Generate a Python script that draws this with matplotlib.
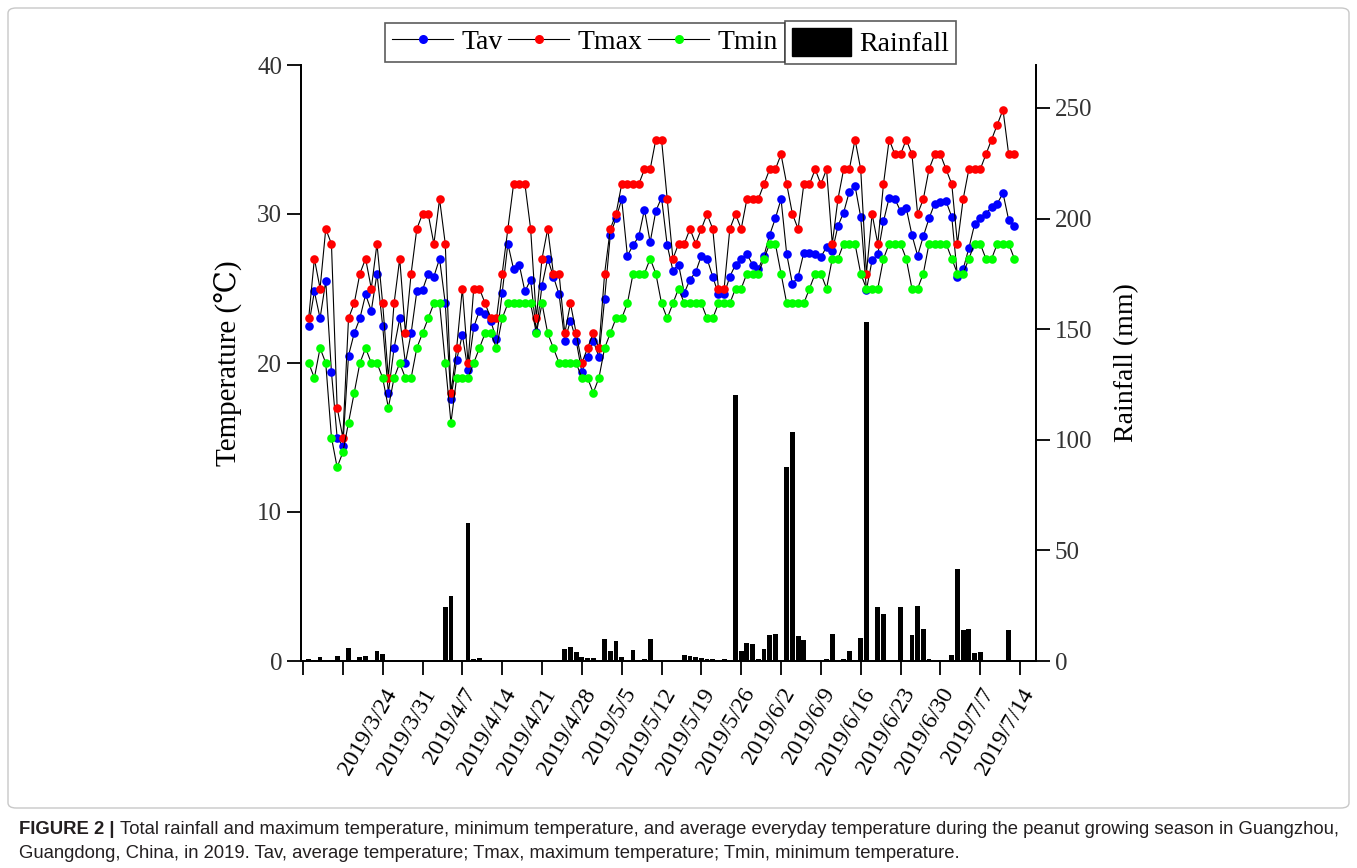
import matplotlib
matplotlib.use("Agg")
import matplotlib.pyplot as plt
import numpy as np
import pandas as pd
from matplotlib.lines import Line2D
from matplotlib.patches import Patch, FancyBboxPatch

plt.rcParams['font.family'] = ['Liberation Serif', 'DejaVu Serif']

# daily values, 2019/3/11 .. 2019/7/13
dates = pd.date_range('2019-03-11', periods=125, freq='D')

tmax = [23, 27, 25, 29, 28, 17, 15, 23, 24, 26, 27, 25, 28, 24, 19, 24, 27, 22, 26, 29, 30,
        30, 28, 31, 28, 18, 21, 25, 20, 25, 25, 24, 23, 23, 26, 29, 32, 32, 32, 29, 23, 27,
        29, 26, 26, 22, 24, 22, 20, 21, 22, 21, 26, 29, 30, 32, 32, 32, 32, 33, 33, 35, 35,
        31, 27, 28, 28, 29, 28, 29, 30, 29, 25, 25, 29, 30, 29, 31, 31, 31, 32, 33, 33, 34,
        32, 30, 29, 32, 32, 33, 32, 33, 28, 31, 33, 33, 35, 33, 26, 30, 28, 32, 35, 34, 34,
        35, 34, 30, 31, 33, 34, 34, 33, 32, 28, 31, 33, 33, 33, 34, 35, 36, 37, 34, 34]

tav = [22.5, 24.8, 23.0, 25.5, 19.4, 15.0, 14.4, 20.5, 22.0, 23.0, 24.6, 23.5, 26.0, 22.5, 18.0,
       21.0, 23.0, 20.0, 22.0, 24.8, 24.9, 26.0, 25.8, 27.0, 24.0, 17.6, 20.2, 21.9, 19.5, 22.4,
       23.5, 23.3, 22.8, 21.6, 24.7, 28.0, 26.3, 26.6, 24.8, 25.6, 22.1, 25.2, 27.0, 25.8, 24.6,
       21.5, 22.85, 21.5, 19.4, 20.4, 21.5, 20.4, 24.3, 28.6, 29.7, 31.0, 27.2, 27.9, 28.5, 30.3,
       28.1, 30.2, 31.1, 27.9, 26.2, 26.6, 24.7, 25.6, 26.1, 27.2, 27.0, 25.8, 24.6, 24.6, 25.8,
       26.6, 27.0, 27.3, 26.6, 26.3, 27.2, 28.6, 29.7, 31.0, 27.3, 25.3, 25.8, 27.4, 27.4, 27.3,
       27.1, 27.8, 27.5, 29.2, 30.1, 31.5, 31.9, 29.8, 24.9, 26.9, 27.3, 29.5, 31.1, 31.0, 30.2,
       30.4, 28.6, 27.2, 28.5, 29.7, 30.7, 30.8, 30.85, 29.8, 25.8, 26.3, 27.7, 29.3, 29.7, 30.0,
       30.5, 30.7, 31.4, 29.6, 29.2]

tmin = [20, 19, 21, 20, 15, 13, 14, 16, 18, 20, 21, 20, 20, 19, 17, 19, 20, 19, 19, 21, 22,
        23, 24, 24, 20, 16, 19, 19, 19, 20, 21, 22, 22, 21, 23, 24, 24, 24, 24, 24, 22, 24,
        22, 21, 20, 20, 20, 20, 19, 19, 18, 19, 21, 22, 23, 23, 24, 26, 26, 26, 27, 26, 24,
        23, 24, 25, 24, 24, 24, 24, 23, 23, 24, 24, 24, 25, 25, 26, 26, 26, 27, 28, 28, 26,
        24, 24, 24, 24, 25, 26, 26, 25, 27, 27, 28, 28, 28, 26, 25, 25, 25, 27, 28, 28, 28,
        27, 25, 25, 26, 28, 28, 28, 28, 27, 26, 26, 27, 28, 28, 27, 27, 28, 28, 28, 27]

# rainfall (mm), days with rain only; day index counted from 2019/3/11
rain_day = [0, 1, 2, 4, 5, 7, 9, 10, 12, 13,
            24, 25, 28, 29, 30,
            44, 45, 46, 47, 48, 49, 50, 52, 53, 54, 55, 56, 57, 58, 59, 60,
            63, 66, 67, 68, 69, 70, 71, 72, 73, 74,
            75, 76, 77, 78, 79, 80, 81, 82,
            84, 85, 86, 87, 91, 92, 94, 95, 97, 98, 100, 101,
            104, 106, 107, 108, 109, 111, 113, 114, 115, 116, 117, 118, 123]
rain_mm = [1.0, 0.5, 2.0, 0.5, 2.4, 5.8, 1.8, 2.4, 4.4, 3.0,
           24.2, 29.4, 62.3, 1.0, 1.2,
           0.5, 5.3, 6.5, 3.9, 1.8, 1.2, 1.2, 9.8, 4.7, 9.2, 2.0, 0.5, 5.0, 0.5, 0.8, 10.1,
           0.6, 2.6, 2.3, 1.8, 1.2, 0.8, 0.9, 0.5, 0.8, 0.5,
           120.3, 4.7, 8.2, 7.6, 0.8, 5.2, 11.8, 12.2,
           87.9, 103.4, 11.5, 9.7, 1.0, 12.2, 1.0, 4.4, 10.5, 153.2, 24.2, 21.2,
           24.2, 11.8, 25.0, 14.3, 1.0, 0.3, 2.5, 41.4, 14.0, 14.6, 3.6, 4.1, 14.0]

tick_dates = pd.date_range('2019-03-10', '2019-07-14', freq='7D')
tick_labels = ['', ''] + [f'{d.year}/{d.month}/{d.day}' for d in tick_dates[2:]]

fig = plt.figure(figsize=(13.57, 8.68), dpi=100)
ax = fig.add_axes([301 / 1357, 1 - 661 / 868, 735 / 1357, 596 / 868])
ax2 = ax.twinx()

# rainfall bars behind the temperature lines
rain_dates = dates[rain_day]
ax2.bar(rain_dates, rain_mm, width=0.85, color='black', align='center')
ax2.set_ylim(0, 269.4)
ax2.set_yticks([0, 50, 100, 150, 200, 250])
ax2.set_ylabel('Rainfall (mm)', fontsize=20, labelpad=16)

ax.set_zorder(ax2.get_zorder() + 1)
ax.patch.set_visible(False)

for vals, col in [(tav, 'blue'), (tmax, 'red'), (tmin, '#00ff00')]:
    ax.plot(dates, vals, color='black', lw=0.8, marker='o', ms=6.2,
            mfc=col, mec=col, mew=0)

ax.set_ylim(0, 40)
ax.set_yticks([0, 10, 20, 30, 40])
ax.set_ylabel('Temperature (\u2103)', fontsize=21, labelpad=10)
ax.set_xlim(dates[0] - pd.Timedelta(days=1.35), dates[0] + pd.Timedelta(days=127.8))
ax.set_xticks(tick_dates)
ax.set_xticklabels(tick_labels, rotation=60, ha='right', rotation_mode='anchor', fontsize=17)

for a in (ax, ax2):
    a.spines['top'].set_visible(False)
    for s in a.spines.values():
        s.set_linewidth(1.3)
    a.tick_params(direction='out', length=10, width=1.3, labelsize=18, colors='black')
ax.tick_params(axis='x', labelsize=17, pad=7)
ax.tick_params(axis='y', labelcolor='#333333')
ax2.tick_params(axis='y', labelcolor='#333333')

# two separate legend boxes on top
h1 = [Line2D([], [], color='black', lw=0.8, marker='o', ms=6.5, mfc=c, mec=c, mew=0)
      for c in ('blue', 'red', '#00ff00')]
leg1 = fig.legend(h1, ['Tav', 'Tmax', 'Tmin'], loc='center', ncol=3,
                  bbox_to_anchor=(585 / 1357, 1 - 42.5 / 868), fontsize=20,
                  frameon=True, fancybox=False, edgecolor='#333333', handlelength=2.2,
                  handletextpad=0.3, columnspacing=0.2, borderpad=0.25, borderaxespad=0)
leg1.get_frame().set_linewidth(1.2)
h2 = [Patch(facecolor='black', edgecolor='black')]
leg2 = fig.legend(h2, ['Rainfall'], loc='center',
                  bbox_to_anchor=(870.5 / 1357, 1 - 42.5 / 868), fontsize=20,
                  frameon=True, fancybox=False, edgecolor='#333333', handlelength=2.1,
                  handleheight=1.2, handletextpad=0.3, borderpad=0.25, borderaxespad=0)
leg2.get_frame().set_linewidth(1.2)

# light frame around the chart
fig.patches.append(FancyBboxPatch((8 / 1357, 1 - 808 / 868), 1341 / 1357, 800 / 868,
                                  boxstyle='round,pad=0,rounding_size=0.006',
                                  transform=fig.transFigure, fill=False,
                                  edgecolor='#c8c8c8', lw=1.0))

# caption
cap_font = ['Liberation Sans', 'DejaVu Sans']
t_bold = fig.text(19 / 1357, 1 - 830 / 868, 'FIGURE 2 |', fontsize=13.3, fontweight='bold',
                  family=cap_font, color='#231f20', va='center')
fig.canvas.draw()
bb = t_bold.get_window_extent()
fig.text((bb.x1 + 5) / 1357, 1 - 830 / 868,
         'Total rainfall and maximum temperature, minimum temperature, and average everyday '
         'temperature during the peanut growing season in Guangzhou,',
         fontsize=13.3, family=cap_font, color='#231f20', va='center')
fig.text(19 / 1357, 1 - 853 / 868,
         'Guangdong, China, in 2019. Tav, average temperature; Tmax, maximum temperature; '
         'Tmin, minimum temperature.',
         fontsize=13.3, family=cap_font, color='#231f20', va='center')

fig.savefig('out.png', dpi=100)
